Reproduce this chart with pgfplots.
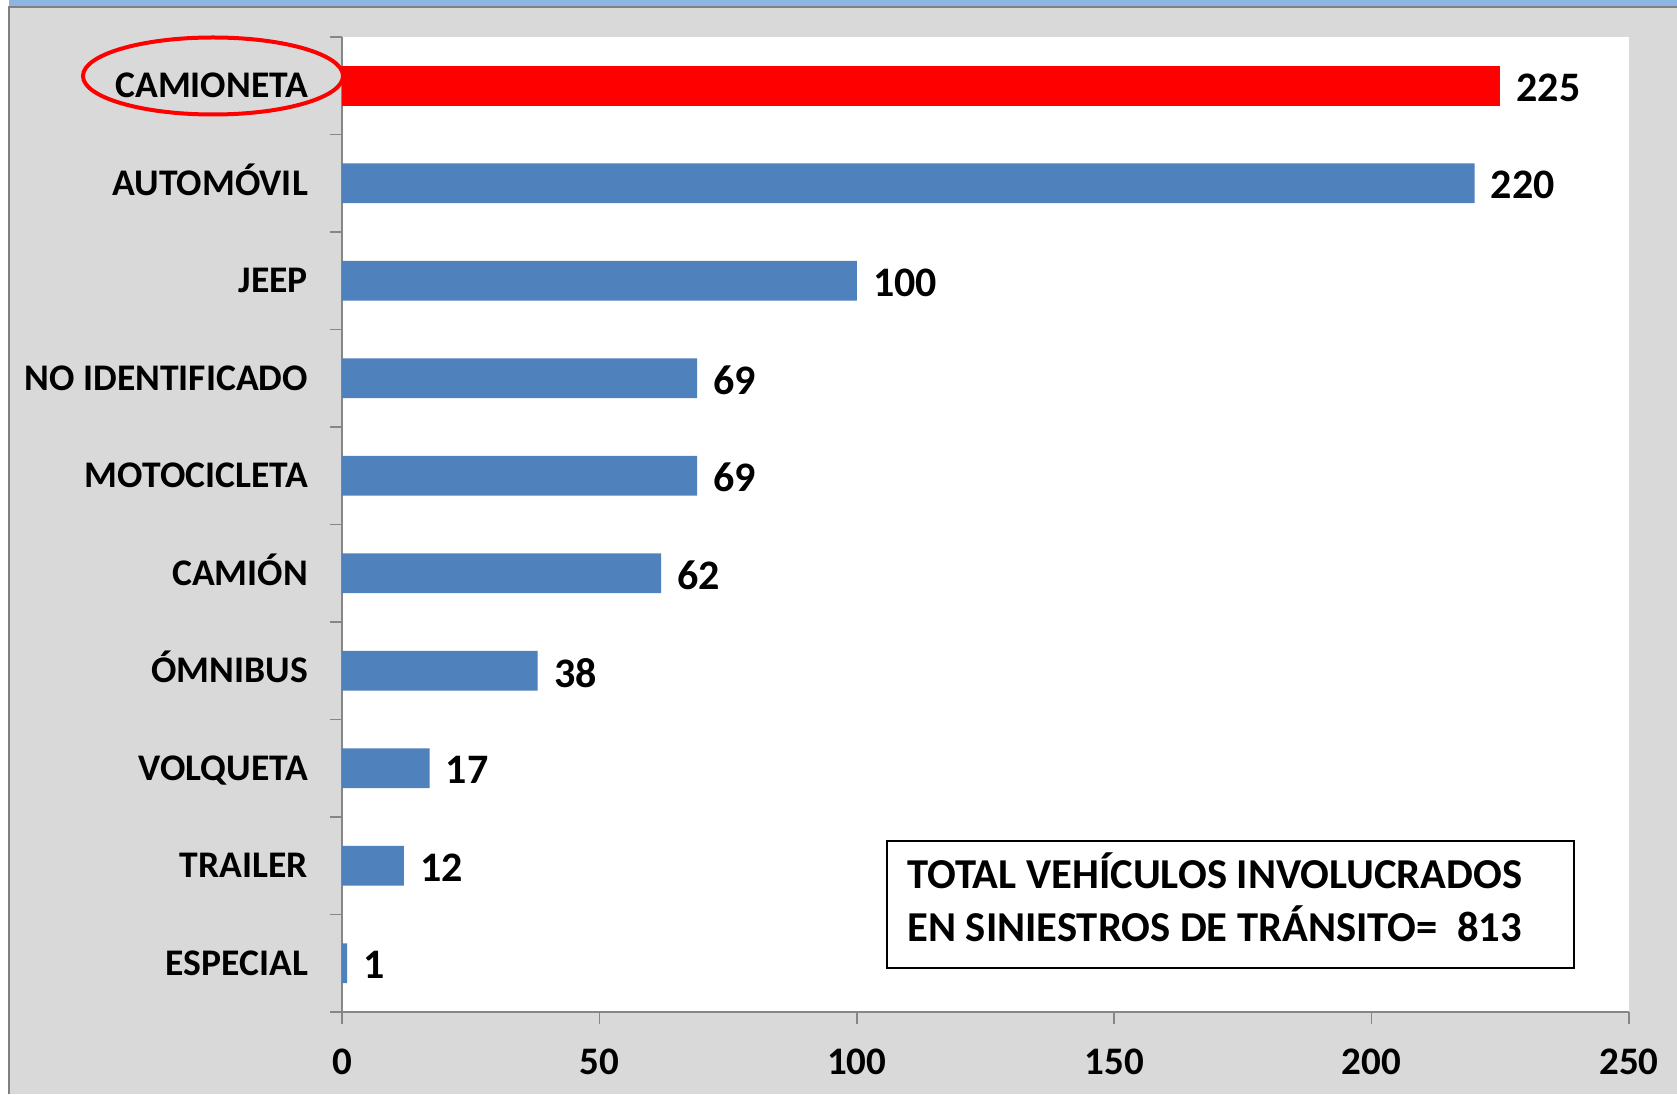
\documentclass[border=0pt]{standalone}
\usepackage{pgfplots}
\pgfplotsset{compat=1.18}
\usepackage{fontspec}
\setmainfont{Carlito}
\definecolor{barblue}{HTML}{4F81BD}
\definecolor{bggray}{HTML}{D9D9D9}
\definecolor{topblue}{HTML}{8DB4E2}
\definecolor{axisgray}{HTML}{868686}
\definecolor{framegray}{HTML}{808080}
\begin{document}
\begin{tikzpicture}[x=0.5pt,y=0.5pt]
% page background (pixel units, origin bottom left)
\fill[white] (0,0) rectangle (1677,1094);
\fill[bggray] (9,0) rectangle (1677,1086);
\fill[topblue] (9,1087) rectangle (1677,1094);
\draw[framegray, line width=1pt] (9,0) -- (9,1087) -- (1677,1087);

\begin{axis}[
  at={(171pt,41pt)}, anchor=south west,
  scale only axis, width=643.5pt, height=487.5pt,
  xbar, bar width=19.8pt, bar shift=0pt,
  xmin=0, xmax=250, ymin=-0.5, ymax=9.5,
  axis lines*=left,
  axis line style={draw=axisgray, line width=0.85pt},
  axis background/.style={fill=white},
  every tick/.style={axisgray, line width=0.85pt},
  tick align=outside,
  major tick length=6pt,
  xtick={0,50,...,250},
  ytick={-0.5,0.5,...,9.5},
  yticklabels={},
  extra y ticks={0,...,9},
  extra y tick labels={ESPECIAL,TRAILER,VOLQUETA,ÓMNIBUS,CAMIÓN,MOTOCICLETA,NO IDENTIFICADO,JEEP,AUTOMÓVIL,CAMIONETA},
  extra y tick style={major tick length=0pt},
  yticklabel style={font=\fontsize{18.8}{20}\selectfont\bfseries, xshift=-13.5pt, text height=12pt, text depth=0pt},
  xticklabel style={font=\fontsize{19.5}{21}\selectfont\bfseries, yshift=-9pt},
  /pgf/number format/assume math mode=true,
  point meta=x,
  nodes near coords={\pgfmathprintnumber\pgfplotspointmeta},
  nodes near coords style={font=\fontsize{21}{24}\selectfont\bfseries, anchor=west, inner sep=0pt, xshift=8pt, yshift=-1pt, black},
  clip=false,
]
\addplot[draw=none, fill=barblue] coordinates {
  (1,0) (12,1) (17,2) (38,3) (62,4) (69,5) (69,6) (100,7) (220,8)
};
\addplot[draw=none, fill=red] coordinates {(225,9)};

% total box
\draw[black, line width=1pt, fill=white] (axis cs:105.9,1.254) rectangle (axis cs:239.3,-0.049);
\node[anchor=base west, inner sep=0pt, font=\fontsize{21.3}{24}\selectfont\bfseries] at (axis cs:109.75,0.762) {TOTAL VEHÍCULOS INVOLUCRADOS};
\node[anchor=base west, inner sep=0pt, font=\fontsize{21.3}{24}\selectfont\bfseries] at (axis cs:109.75,0.228) {EN SINIESTROS DE TRÁNSITO=\ \ 813};
\end{axis}

\draw[red, line width=2pt] (213,1018) ellipse [x radius=130, y radius=38.5];
\pgfresetboundingbox
\path[use as bounding box] (0,0) rectangle (1677,1094);
\end{tikzpicture}
\end{document}
